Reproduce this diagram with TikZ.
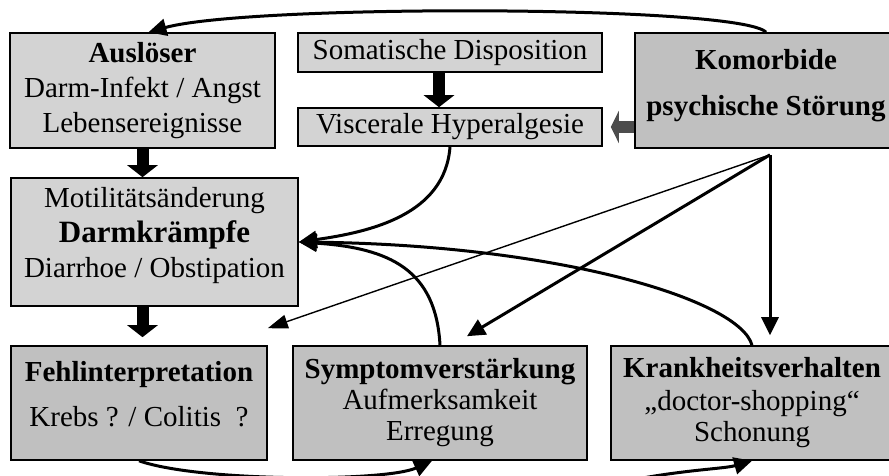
\documentclass[tikz,border=0pt]{standalone}
\usepackage{fontspec}
\setmainfont{Liberation Serif}
\usepackage{xcolor}
\usetikzlibrary{arrows.meta}

\definecolor{lightfill}{HTML}{D3D3D3}
\definecolor{darkfill}{HTML}{C0C0C0}
\definecolor{arrowgray}{HTML}{4D4D4D}

\tikzset{
  lightbox/.style={draw, line width=1.6pt, fill=lightfill, align=center, inner sep=0pt},
  darkbox/.style={lightbox, fill=darkfill},
  blockarrow/.style={line width=12pt, -{Triangle[length=12pt,width=30pt]}},
  darkarrow/.style={draw=arrowgray, line width=12pt, -{Triangle[length=8pt,width=32pt]}},
  conn/.style={line width=3pt, -{Triangle[length=18pt,width=17pt]}},
  thinconn/.style={line width=1.4pt, -{Triangle[length=20pt,width=14pt]}}
}

\begin{document}
\begin{tikzpicture}[x=1pt, y=-1pt, font=\fontsize{29}{35}\selectfont]
    \clip (0,0) rectangle (889,475);
    % boxes
    \node[lightbox, minimum width=265pt, minimum height=115pt] (ausloeser) at (142.5,90.5)
        {\textbf{Auslöser}\\ Darm-Infekt / Angst\\ Lebensereignisse};
    \node[lightbox, minimum width=304pt, minimum height=39pt] (somatisch) at (450,52.5)
        {Somatische Disposition};
    \node[lightbox, minimum width=304pt, minimum height=38pt] (visceral) at (450,127)
        {Viscerale Hyperalgesie};
    \node[darkbox, minimum width=262pt, minimum height=115pt, text depth=17pt] (komorbid) at (766,90.5)
        {\textbf{Komorbide}\\[11pt] \textbf{psychische Störung}};
    \node[lightbox, minimum width=287pt, minimum height=128pt, text depth=20pt] (motilitaet) at (154.5,242)
        {Motilitätsänderung\\ {\fontsize{31}{35}\selectfont\bfseries Darmkrämpfe}\\ Diarrhoe / Obstipation};
    \node[darkbox, minimum width=256pt, minimum height=114pt, text depth=19pt] (fehl) at (139,403)
        {\textbf{Fehlinterpretation}\\[10pt] Krebs ? / Colitis~ ?};
    \node[darkbox, minimum width=294pt, minimum height=114pt] (symptom) at (440,403)
        {\textbf{Symptomverstärkung}\\[-4pt] Aufmerksamkeit\\[-4pt] Erregung};
    \node[darkbox, minimum width=282pt, minimum height=114pt] (krank) at (752,403)
        {\textbf{Krankheitsverhalten}\\[-2pt] „doctor-shopping“\\[-4pt] Schonung};
    % block arrows
    \draw[blockarrow] (ausloeser.south) -- (ausloeser.south |- motilitaet.north);
    \draw[blockarrow] ([xshift=-11pt]somatisch.south) -- ([xshift=-11pt]visceral.north);
    \draw[blockarrow] (motilitaet.south -| ausloeser.south) -- ([yshift=8pt]ausloeser.south |- fehl.north);
    \draw[darkarrow] (komorbid.west |- visceral.east) -- ([xshift=8pt]visceral.east);
    % curved connectors
    \draw[conn] (komorbid.north) .. controls (740,5) and (250,4) .. ([xshift=6pt]ausloeser.north);
    \draw[conn] (visceral.south) .. controls (445,215) and (370,232) .. (motilitaet.east);
    \draw[conn] (symptom.north) .. controls (436,270) and (390,248) .. (motilitaet.east);
    \draw[conn] (krank.north) .. controls (740,300) and (560,245) .. (motilitaet.east);
    % from komorbide
    \coordinate (ksrc) at ([xshift=4pt,yshift=-6pt]komorbid.south);
    \draw[thinconn] (ksrc) -- ([yshift=17pt]fehl.north east);
    \draw[conn] (ksrc) -- ([xshift=27pt,yshift=9pt]symptom.north);
    \draw[conn] (ksrc) -- ([yshift=10pt]ksrc |- krank.north);
    % bottom loop
    \draw[conn] (fehl.south) .. controls (200,482) and (385,482) .. ([xshift=-8pt]symptom.south);
    \coordinate (offpage) at (560,498);
    \draw[conn] (offpage) .. controls (650,470) and (720,470) .. (krank.south);
\end{tikzpicture}
\end{document}
